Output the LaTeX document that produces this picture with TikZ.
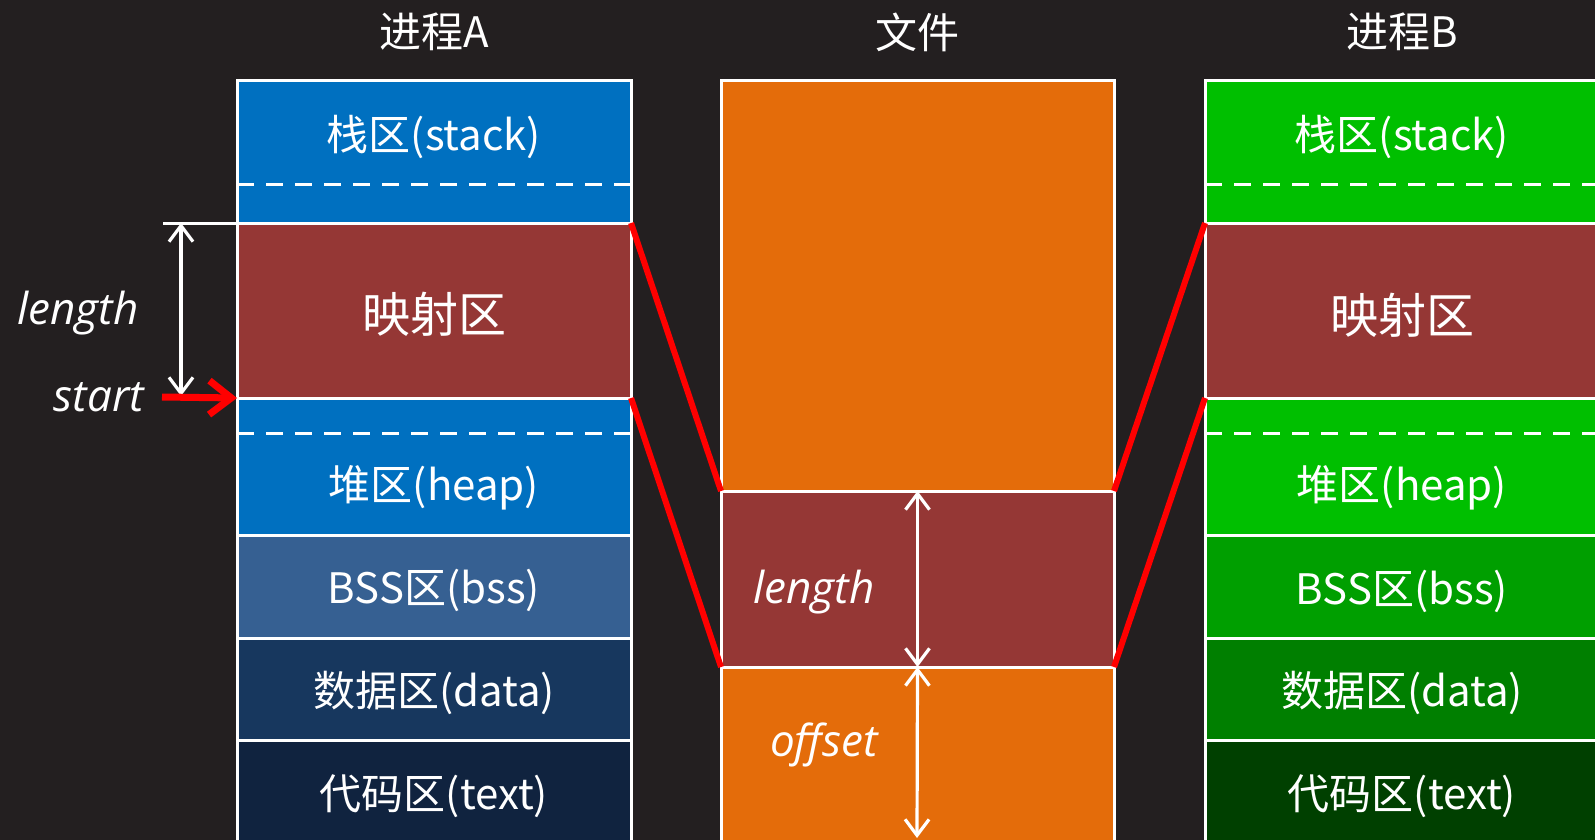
\documentclass[tikz,border=0pt]{standalone}
\usepackage{fontspec}
\setmainfont{Noto Sans CJK SC}
\newfontfamily\itlatin{Open Sans}
\usetikzlibrary{arrows.meta,fit}
\definecolor{bgdark}{HTML}{231F20}
\definecolor{stackblue}{HTML}{0070C0}
\definecolor{bssblue}{HTML}{366092}
\definecolor{datablue}{HTML}{17375E}
\definecolor{codeblue}{HTML}{10233F}
\definecolor{stackgreen}{HTML}{00BF00}
\definecolor{bssgreen}{HTML}{009F00}
\definecolor{datagreen}{HTML}{007F00}
\definecolor{codegreen}{HTML}{004000}
\definecolor{mapred}{HTML}{953735}
\definecolor{fileorange}{HTML}{E46C0A}
\tikzset{
  seg/.style={draw=white, line width=1.5pt, inner sep=0pt, outer sep=0pt},
  lbl/.style={text=white, inner sep=0pt, font=\fontsize{21}{25}\selectfont},
  seglbl/.style={lbl, yshift=-2pt},
  big/.style={font=\fontsize{24}{28}\selectfont},
  var/.style={text=white, inner sep=0pt, font=\itlatin\itshape\fontsize{22}{26}\selectfont},
  cut/.style={white, line width=1.5pt, dash pattern=on 8.5pt off 6pt},
  link/.style={red, line width=3pt},
  span/.style={white, line width=1.6pt, {Straight Barb[length=8pt,width=12pt]}-{Straight Barb[length=8pt,width=12pt]}}
}
\begin{document}
\begin{tikzpicture}[x=0.5pt,y=-0.5pt]
\clip (0,0) rectangle (1595,840);
\fill[bgdark] (0,0) rectangle (1595,840);

% titles
\node[lbl] (titleA) at (434,32) {进程A};
\node[lbl] (titleF) at (917,32) {文件};
\node[lbl] (titleB) at (1402,32) {进程B};

% process A
\node[seg, fill=stackblue, fit={(237,81) (631,223)}] (stackA) {};
\node[seg, fill=mapred, fit={(237,223) (631,398)}] (mapA) {};
\node[seg, fill=stackblue, fit={(237,398) (631,535)}] (heapA) {};
\node[seg, fill=bssblue, fit={(237,535) (631,638)}] (bssA) {};
\node[seg, fill=datablue, fit={(237,638) (631,740)}] (dataA) {};
\node[seg, fill=codeblue, fit={(237,740) (631,844)}] (codeA) {};
\draw[cut] (237,184) -- (631,184);
\draw[cut] (237,433) -- (631,433);
\node[seglbl] (stackAtxt) at (434,133) {栈区(stack)};
\node[seglbl, big] (mapAtxt) at (mapA.center) {映射区};
\node[seglbl] (heapAtxt) at (434,484) {堆区(heap)};
\node[seglbl] (bssAtxt) at (bssA.center) {BSS区(bss)};
\node[seglbl] (dataAtxt) at (dataA.center) {数据区(data)};
\node[seglbl] (codeAtxt) at (codeA.center) {代码区(text)};

% file
\node[seg, fill=fileorange, fit={(721,81) (1114,491)}] (fileTop) {};
\node[seg, fill=mapred, fit={(721,491) (1114,667)}] (fileMap) {};
\node[seg, fill=fileorange, fit={(721,667) (1114,860)}] (fileOff) {};
\node[var] (lenF) at (814,592) {length};
\node[var] (offF) at (824,745) {offset};
\coordinate (offEnd) at (917,838);
\draw[span] (fileMap.north) -- (fileMap.south);
\draw[span] (fileMap.south) -- (offEnd);

% process B
\node[seg, fill=stackgreen, fit={(1205,81) (1599,223)}] (stackB) {};
\node[seg, fill=mapred, fit={(1205,223) (1599,398)}] (mapB) {};
\node[seg, fill=stackgreen, fit={(1205,398) (1599,535)}] (heapB) {};
\node[seg, fill=bssgreen, fit={(1205,535) (1599,638)}] (bssB) {};
\node[seg, fill=datagreen, fit={(1205,638) (1599,740)}] (dataB) {};
\node[seg, fill=codegreen, fit={(1205,740) (1599,844)}] (codeB) {};
\draw[cut] (1205,184) -- (1599,184);
\draw[cut] (1205,433) -- (1599,433);
\node[seglbl] (stackBtxt) at (1402,133) {栈区(stack)};
\node[seglbl, big] (mapBtxt) at (1402,311) {映射区};
\node[seglbl] (heapBtxt) at (1402,484) {堆区(heap)};
\node[seglbl] (bssBtxt) at (1402,587) {BSS区(bss)};
\node[seglbl] (dataBtxt) at (1402,689) {数据区(data)};
\node[seglbl] (codeBtxt) at (1402,792) {代码区(text)};

% start / length on the left
\coordinate (topTick) at (163,223);
\coordinate (lenTop) at (181,223);
\coordinate (lenBot) at (181,396);
\coordinate (startTail) at (162,397);
\draw[white, line width=1.5pt] (topTick) -- (mapA.north west);
\draw[span] (lenTop) -- (lenBot);
\draw[red, line width=3.5pt, -{Straight Barb[length=11pt,width=17pt]}] (startTail) -- (mapA.south west);
\node[var] (lenA) at (78,313) {length};
\node[var] (startA) at (99,397) {start};

% mapping lines
\draw[link] (mapA.north east) -- (fileMap.north west);
\draw[link] (mapA.south east) -- (fileMap.south west);
\draw[link] (mapB.north west) -- (fileMap.north east);
\draw[link] (mapB.south west) -- (fileMap.south east);
\end{tikzpicture}
\end{document}
